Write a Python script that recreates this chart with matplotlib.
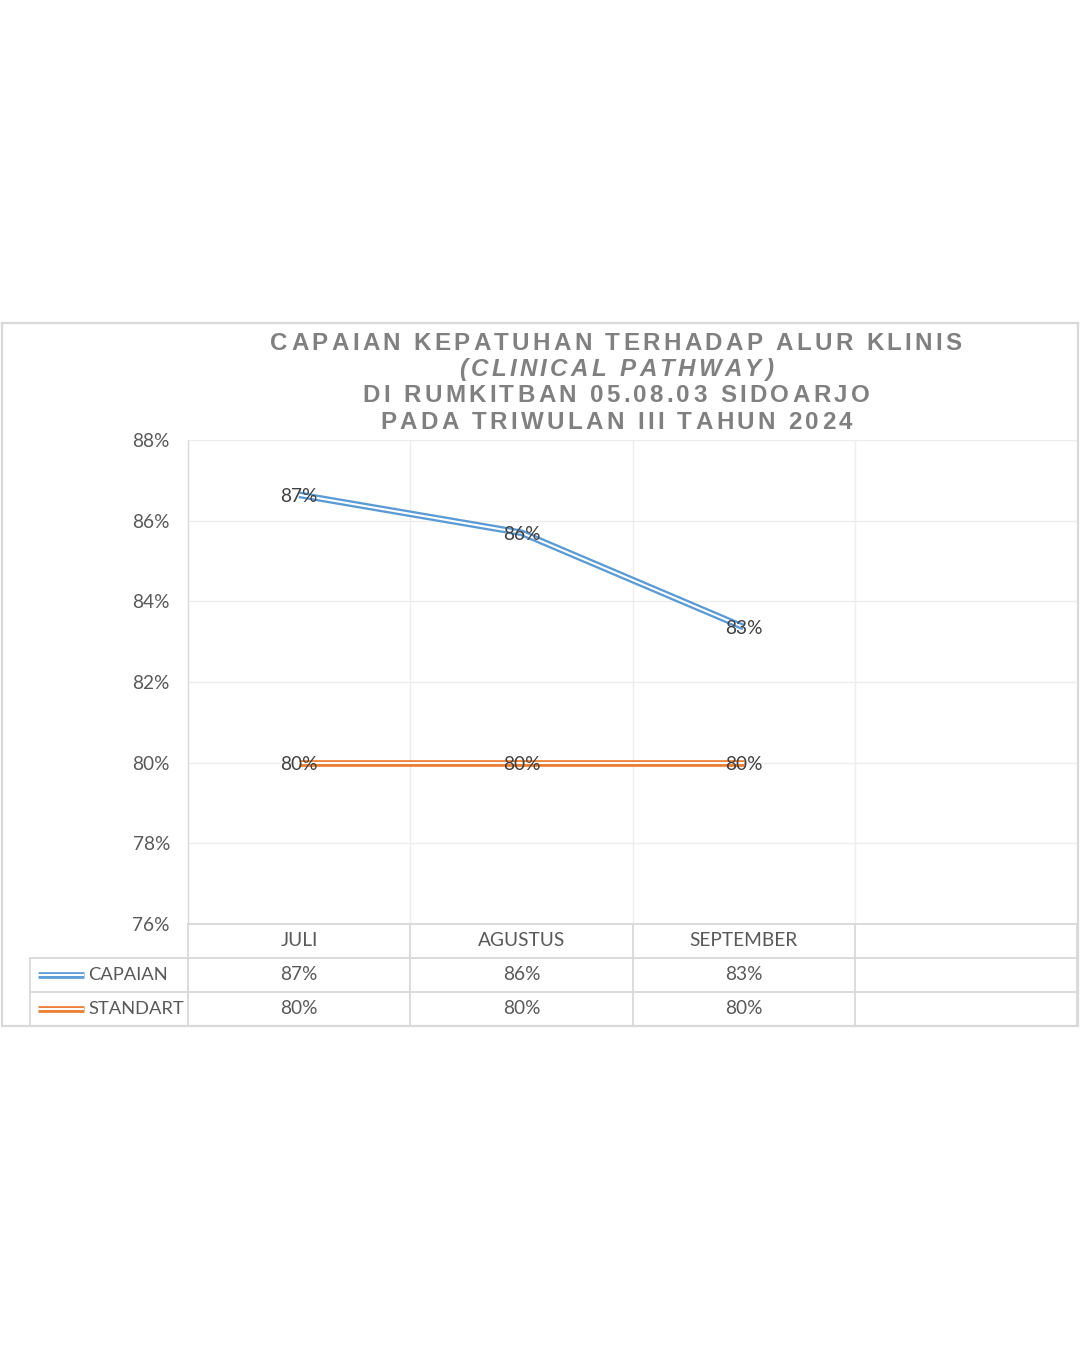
import matplotlib
matplotlib.use('Agg')
import matplotlib.pyplot as plt
import matplotlib.patheffects as pe
import matplotlib.transforms as mtransforms
from matplotlib.lines import Line2D
from matplotlib.patches import Rectangle
from matplotlib.font_manager import FontProperties
from matplotlib.textpath import text_to_path

# data
months = ['JULI', 'AGUSTUS', 'SEPTEMBER']
capaian = [86.64, 85.70, 83.36]
standart = [80, 80, 80]
series_names = ['CAPAIAN', 'STANDART']
series_colors = ['#5b9bd5', '#ed7d31']
title_lines = ['CAPAIAN KEPATUHAN TERHADAP ALUR KLINIS',
               '(CLINICAL PATHWAY)',
               'DI RUMKITBAN 05.08.03 SIDOARJO',
               'PADA TRIWULAN III TAHUN 2024']
yticks = [76, 78, 80, 82, 84, 86, 88]

W, H = 1080, 1350
fig = plt.figure(figsize=(W / 100, H / 100), dpi=100)
fig.patch.set_facecolor('white')

FONT = 'Lato'
FS = 13.8
GRID = '#ededed'
BORDER = '#d9d9d9'


def fx(x):
    return x / W


def fy(y):
    return 1 - y / H


def double_line(color):
    # excel style compound line: two thin strokes with a white gap
    return [pe.Stroke(linewidth=4.8, foreground=color),
            pe.Stroke(linewidth=1.5, foreground='white')]


# chart frame
fig.add_artist(Rectangle((fx(2), fy(1026)), fx(1078) - fx(2), fy(323) - fy(1026),
                         transform=fig.transFigure, fill=False, edgecolor=BORDER, lw=1.6))

# title, letter spaced by hand
def spaced_line(text, baseline, size, style, spacing, cx=616):
    fp = FontProperties(family='Liberation Sans', weight='bold', style=style, size=size)

    def width(s):
        return text_to_path.get_text_width_height_descent(s, fp, ismath=False)[0] * 100 / 72

    base = width('HH')
    adv = [width('H' + c + 'H') - base for c in text]
    total = sum(adv) + spacing * (len(text) - 1)
    x = cx - total / 2
    for c, a in zip(text, adv):
        fig.text(fx(x), fy(baseline), c, fontproperties=fp, color='#808080',
                 ha='left', va='baseline')
        x += a + spacing
    return total

baselines = [350, 376, 402, 429]
styles = ['normal', 'italic', 'normal', 'normal']
for line, b, st in zip(title_lines, baselines, styles):
    spaced_line(line, b, 17.4, st, 3.3)

# plot area
ax = fig.add_axes([fx(188), fy(924), fx(1077) - fx(188), fy(440) - fy(924)])
x = [i + 0.5 for i in range(len(months))]
ax.set_xlim(0, 4)
ax.set_ylim(76, 88)
ax.set_yticks(yticks)
ax.set_yticklabels([f'{v}%' for v in yticks])
ax.set_xticks([1, 2, 3])
ax.set_xticklabels([])
ax.tick_params(axis='both', length=0)
ax.tick_params(axis='y', pad=13, labelsize=FS, labelcolor='#595959')
for lab in ax.get_yticklabels():
    lab.set_fontfamily(FONT)
ax.grid(True, color=GRID, lw=1.0)
for s in ['top', 'right', 'bottom']:
    ax.spines[s].set_visible(False)
ax.spines['left'].set_color(BORDER)
ax.spines['left'].set_linewidth(1.0)

for vals, col in zip([capaian, standart], series_colors):
    ln, = ax.plot(x, vals, color=col, lw=4.8, solid_capstyle='butt', zorder=3)
    ln.set_path_effects(double_line(col))
    for xi, v in zip(x, vals):
        ax.text(xi, v, f'{v:.0f}%', ha='center', va='center_baseline', fontsize=FS,
                family=FONT, color='#404040', zorder=4)

# data table under the axis
blend = mtransforms.blended_transform_factory(ax.transData, fig.transFigure)
row_edges = [924, 958, 992, 1026]

def hline(x0, x1, y):
    fig.add_artist(Line2D([fx(x0), fx(x1)], [fy(y), fy(y)], transform=fig.transFigure,
                          color=BORDER, lw=1.3))

hline(188, 1077, 924)
for y in row_edges[1:]:
    hline(30, 1077, y)
for xc in range(5):
    fig.add_artist(Line2D([xc, xc], [fy(924), fy(1026)], transform=blend,
                          color=BORDER, lw=1.3))
fig.add_artist(Line2D([fx(30), fx(30)], [fy(958), fy(1026)], transform=fig.transFigure,
                      color=BORDER, lw=1.3))

for xi, m in zip(x, months):
    fig.text(xi, fy(941), m, transform=blend, ha='center', va='center',
             fontsize=FS, family=FONT, color='#595959')

for r, (name, vals, col) in enumerate(zip(series_names, [capaian, standart], series_colors)):
    yc = (row_edges[r + 1] + row_edges[r + 2]) / 2
    key = Line2D([fx(38), fx(84)], [fy(yc), fy(yc)], transform=fig.transFigure,
                 color=col, lw=4.8, solid_capstyle='butt')
    key.set_path_effects(double_line(col))
    fig.add_artist(key)
    fig.text(fx(88), fy(yc), name, ha='left', va='center', fontsize=13.2,
             family=FONT, color='#595959')
    for xi, v in zip(x, vals):
        fig.text(xi, fy(yc), f'{v:.0f}%', transform=blend, ha='center', va='center',
                 fontsize=FS, family=FONT, color='#595959')

fig.savefig('out.png', dpi=100, facecolor='white')
